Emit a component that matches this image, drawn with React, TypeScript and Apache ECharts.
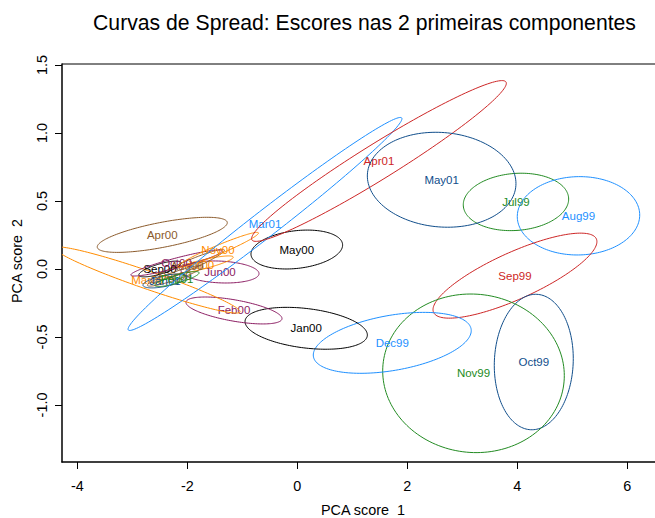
import React, { useEffect, useRef } from "react";
import * as echarts from "echarts";

const months = ["Jul99", "Aug99", "Sep99", "Oct99", "Nov99", "Dec99", "Jan00", "Feb00", "Mar00", "Apr00", "May00", "Jun00", "Jul00", "Aug00", "Sep00", "Oct00", "Nov00", "Dec00", "Jan01", "Feb01", "Mar01", "Apr01", "May01"];
const centerX = [3.976, 5.113, 3.958, 4.3, 3.204, 1.727, 0.162, -1.151, -2.724, -2.455, -0.009, -1.405, -1.76, -2.005, -2.496, -2.196, -1.442, -2.224, -2.405, -2.187, -0.587, 1.485, 2.625];
const centerY = [0.493, 0.391, -0.049, -0.684, -0.767, -0.543, -0.436, -0.305, -0.081, 0.251, 0.143, -0.022, 0.029, 0.022, 0.0, 0.044, 0.14, -0.051, -0.088, -0.074, 0.331, 0.794, 0.656];
const spreadX = [0.958, 1.113, 1.49, 0.718, 1.651, 1.436, 1.112, 0.873, 1.684, 1.182, 0.833, 0.709, 0.596, 0.68, 0.385, 0.831, 0.736, 0.502, 0.4, 0.402, 2.49, 2.316, 1.351];
const spreadY = [0.211, 0.288, 0.3125, 0.498, 0.583, 0.224, 0.154, 0.099, 0.243, 0.129, 0.143, 0.081, 0.067, 0.122, 0.058, 0.0956, 0.129, 0.075, 0.051, 0.055, 0.783, 0.591, 0.349];
const correlation = [0.1, 0.02, 0.8, 0.05, -0.03, 0.4, -0.32, -0.6, -0.958, 0.69, 0.23, -0.15, 0.86, 0.95, 0.75, 0.92, 0.961, 0.91, 0.6, 0.83, 0.988, 0.966, -0.08];
const monthColor = ["g", "b", "r", "n", "g", "b", "k", "m", "o", "t", "k", "m", "o", "t", "k", "m", "o", "t", "n", "g", "b", "r", "n"];
const xTicks = [-4, -2, 0, 2, 4, 6];
const yTicks = [-1, -0.5, 0, 0.5, 1, 1.5];

const palette: Record<string, string> = {
  g: "#228B22",
  b: "#1E90FF",
  r: "#CD2626",
  n: "#104E8B",
  k: "#000000",
  m: "#8B1C62",
  o: "#FF8C00",
  t: "#8B5A2B",
};

const FONT = "'Liberation Sans', Arial, Helvetica, sans-serif";

export default function App() {
  const ref = useRef<HTMLDivElement>(null);
  useEffect(() => {
    if (!ref.current) return;
    const chart = echarts.init(ref.current, undefined, { renderer: "svg" });
    const data = months.map((m, i) => [centerX[i], centerY[i], spreadX[i], spreadY[i], correlation[i], i]);
    chart.setOption({
      animation: false,
      backgroundColor: "#ffffff",
      grid: {
        left: 62,
        top: 64,
        right: 0,
        bottom: 56,
        show: false,
        containLabel: false,
      },
      xAxis: {
        type: "value",
        min: -4.278,
        max: 6.504,
        axisLine: { show: true, onZero: false, lineStyle: { color: "#000", width: 1.5 } },
        axisTick: { show: true, length: 7, lineStyle: { color: "#000" }, customValues: xTicks },
        axisLabel: { customValues: xTicks, color: "#000", fontSize: 14.4, fontFamily: FONT, margin: 17 },
        splitLine: { show: false },
      },
      yAxis: {
        type: "value",
        min: -1.419,
        max: 1.507,
        axisLine: { show: true, onZero: false, lineStyle: { color: "#000", width: 1.5 } },
        axisTick: { show: true, length: 7, lineStyle: { color: "#000" }, customValues: yTicks },
        axisLabel: {
          customValues: yTicks,
          color: "#000",
          fontSize: 14.4,
          fontFamily: FONT,
          rotate: 90,
          margin: 13,
          formatter: (v: number) => v.toFixed(1),
        },
        splitLine: { show: false },
      },
      graphic: [
        {
          type: "line",
          shape: { x1: 62, y1: 64, x2: 655, y2: 64 },
          style: { stroke: "#000", lineWidth: 1 },
        },
        {
          type: "text",
          x: 364.5,
          y: 22,
          style: {
            text: "Curvas de Spread: Escores nas 2 primeiras componentes",
            fill: "#000",
            fontSize: 21.2,
            fontFamily: FONT,
            align: "center",
            verticalAlign: "middle",
          },
        },
        {
          type: "text",
          x: 363,
          y: 510,
          style: {
            text: "PCA score  1",
            fill: "#000",
            fontSize: 14.4,
            fontFamily: FONT,
            align: "center",
            verticalAlign: "middle",
          },
        },
        {
          type: "text",
          x: 17,
          y: 261,
          rotation: Math.PI / 2,
          style: {
            text: "PCA score  2",
            fill: "#000",
            fontSize: 14.4,
            fontFamily: FONT,
            align: "center",
            verticalAlign: "middle",
          },
        },
      ],
      series: [
        {
          type: "custom",
          clip: true,
          encode: { x: 0, y: 1 },
          data,
          renderItem: (params: any, api: any) => {
            const cx = api.value(0);
            const cy = api.value(1);
            const wx = api.value(2);
            const wy = api.value(3);
            const rho = api.value(4);
            const idx = api.value(5);
            const color = palette[monthColor[idx]];
            const phi = Math.acos(rho);
            const pts: number[][] = [];
            const N = 160;
            for (let k = 0; k <= N; k++) {
              const t = (2 * Math.PI * k) / N;
              pts.push(api.coord([cx + wx * Math.cos(t), cy + wy * Math.cos(t + phi)]));
            }
            const c = api.coord([cx, cy]);
            return {
              type: "group",
              children: [
                {
                  type: "polyline",
                  shape: { points: pts },
                  style: { stroke: color, fill: "none", lineWidth: 1 },
                },
                {
                  type: "text",
                  x: c[0],
                  y: c[1],
                  style: {
                    text: months[idx],
                    fill: color,
                    fontSize: 11.5,
                    fontFamily: FONT,
                    align: "center",
                    verticalAlign: "middle",
                  },
                },
              ],
            };
          },
        },
      ],
    });
    return () => chart.dispose();
  }, []);
  return (
    <div
      ref={ref}
      style={{ position: "fixed", left: 0, top: 0, width: 655, height: 518, background: "#fff" }}
    />
  );
}
